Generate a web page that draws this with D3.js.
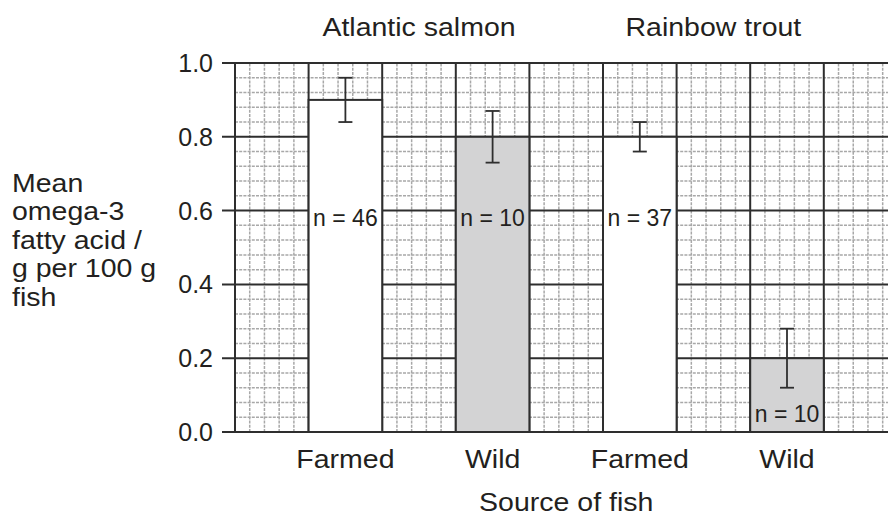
<!DOCTYPE html>
<html>
<head>
<meta charset="utf-8">
<script src="https://cdn.jsdelivr.net/npm/d3@7"></script>
<style>
html,body{margin:0;padding:0;background:#fff;}
svg{display:block;}
text{font-family:"Liberation Sans",Arial,Helvetica,sans-serif;fill:#231f20;}
</style>
</head>
<body>
<svg id="chart" width="888" height="518"></svg>
<script>
// ---- data ----
const categories = ["Farmed", "Wild", "Farmed", "Wild"];
const species = ["Atlantic salmon", "Rainbow trout"];
const meanValues = [0.90, 0.80, 0.80, 0.20];
const errLow = [0.84, 0.73, 0.76, 0.12];
const errHigh = [0.96, 0.87, 0.84, 0.28];
const sampleSizes = [46, 10, 37, 10];
const isWild = [false, true, false, true];
const yTicks = [0.0, 0.2, 0.4, 0.6, 0.8, 1.0];
const yTitleLines = ["Mean", "omega-3", "fatty acid /", "g per 100 g", "fish"];
const xTitle = "Source of fish";

// ---- layout ----
const W = 888, H = 518;
const x0 = 235, cell = 73.6, nCells = 9;
const stretch = 1.14;
const svg = d3.select("#chart");

const xc = d3.scaleLinear().domain([0, nCells]).range([x0, x0 + nCells * cell]);
const y = d3.scaleLinear().domain([0, 1]).range([432, 63]);
const idx = d3.range(categories.length);
const xb = d3.scaleBand().domain(idx).range([xc(0.5), xc(8.5)]).paddingInner(0.5).paddingOuter(0.25);

const right = W;

svg.append("clipPath").attr("id", "plotclip").append("rect")
  .attr("x", x0).attr("y", y(1) - 2).attr("width", right - x0).attr("height", y(0) - y(1) + 4);

const grid = svg.append("g").attr("clip-path", "url(#plotclip)");

// minor grid
const minorX = d3.range(0, nCells + 0.001, 0.2).filter(v => Math.abs(v - Math.round(v)) > 1e-6);
const minorY = d3.range(0, 1.0001, 0.04).filter(v => Math.abs(v / 0.2 - Math.round(v / 0.2)) > 1e-6);
grid.selectAll("line.mx").data(minorX).join("line")
  .attr("x1", d => xc(d)).attr("x2", d => xc(d))
  .attr("y1", y(0)).attr("y2", y(1))
  .attr("stroke", "#a8a8a8").attr("stroke-width", 1.5).attr("stroke-dasharray", "3,1.2");
grid.selectAll("line.my").data(minorY).join("line")
  .attr("x1", x0).attr("x2", right)
  .attr("y1", d => y(d)).attr("y2", d => y(d))
  .attr("stroke", "#a8a8a8").attr("stroke-width", 1.5).attr("stroke-dasharray", "3,1.2");

// major grid
const majorX = d3.range(1, nCells + 1);
grid.selectAll("line.Mx").data(majorX).join("line")
  .attr("x1", d => xc(d)).attr("x2", d => xc(d))
  .attr("y1", y(0)).attr("y2", y(1))
  .attr("stroke", "#2e2e2e").attr("stroke-width", 2);
svg.selectAll("line.My").data(yTicks).join("line")
  .attr("x1", x0 - 13).attr("x2", right)
  .attr("y1", d => y(d)).attr("y2", d => y(d))
  .attr("stroke", "#2e2e2e").attr("stroke-width", 2);

// y axis line
svg.append("line").attr("x1", x0).attr("x2", x0).attr("y1", y(0) + 1).attr("y2", y(1) - 1)
  .attr("stroke", "#2e2e2e").attr("stroke-width", 2);

// bars
svg.selectAll("rect.bar").data(idx).join("rect")
  .attr("x", i => xb(i)).attr("width", xb.bandwidth())
  .attr("y", i => y(meanValues[i])).attr("height", i => y(0) - y(meanValues[i]))
  .attr("fill", i => isWild[i] ? "#d3d3d4" : "#ffffff")
  .attr("stroke", "#2e2e2e").attr("stroke-width", 2);

svg.append("line").attr("x1", x0 - 13).attr("x2", right).attr("y1", y(0)).attr("y2", y(0))
  .attr("stroke", "#2e2e2e").attr("stroke-width", 2);

// error bars
const cap = 7;
const eb = svg.append("g").attr("stroke", "#2e2e2e").attr("stroke-width", 1.8);
idx.forEach(i => {
  const cx = xb(i) + xb.bandwidth() / 2;
  eb.append("line").attr("x1", cx).attr("x2", cx).attr("y1", y(errLow[i])).attr("y2", y(errHigh[i]));
  eb.append("line").attr("x1", cx - cap).attr("x2", cx + cap).attr("y1", y(errLow[i])).attr("y2", y(errLow[i]));
  eb.append("line").attr("x1", cx - cap).attr("x2", cx + cap).attr("y1", y(errHigh[i])).attr("y2", y(errHigh[i]));
});

// n labels
svg.selectAll("text.n").data(idx).join("text")
  .attr("x", i => xb(i) + xb.bandwidth() / 2)
  .attr("y", i => meanValues[i] > 0.5 ? y(0.58) : y(0.05))
  .attr("dy", "0.36em")
  .attr("text-anchor", "middle")
  .attr("font-size", 23)
  .text(i => "n = " + sampleSizes[i]);

// y tick labels
svg.selectAll("text.yt").data(yTicks).join("text")
  .attr("x", 213).attr("y", d => y(d)).attr("dy", "0.36em")
  .attr("text-anchor", "end").attr("font-size", 25)
  .text(d => d3.format(".1f")(d));

function wide(sel, x, yy) {
  return sel.attr("transform", (d, i) => `translate(${x(d, i)},${yy(d, i)}) scale(${stretch},1)`);
}

// x category labels
wide(svg.selectAll("text.xl").data(idx).join("text"),
  i => xb(i) + xb.bandwidth() / 2, () => 468)
  .attr("text-anchor", "middle").attr("font-size", 25)
  .text(i => categories[i]);

// species labels
wide(svg.selectAll("text.sp").data(species).join("text"),
  (d, j) => (xb(2 * j) + xb(2 * j + 1) + xb.bandwidth()) / 2, () => 36)
  .attr("text-anchor", "middle").attr("font-size", 25)
  .text(d => d);

// x title
wide(svg.append("text"), () => (xb(0) + xb(3) + xb.bandwidth()) / 2, () => 511)
  .attr("text-anchor", "middle").attr("font-size", 25).text(xTitle);

// y title
wide(svg.selectAll("text.yl").data(yTitleLines).join("text"),
  () => 12, (d, j) => 192 + j * 28.4)
  .attr("font-size", 25)
  .text(d => d);
</script>
</body>
</html>
